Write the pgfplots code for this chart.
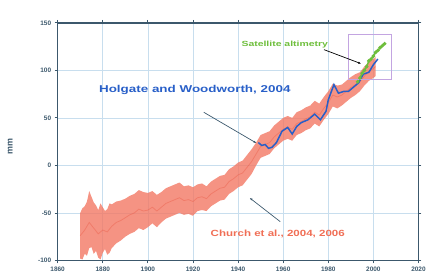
\documentclass[border=0pt]{standalone}
\usepackage{pgfplots}
\pgfplotsset{compat=1.18}
\usepackage{pgfplotstable}
\usetikzlibrary{arrows.meta}
\usepackage{fontspec}
\setmainfont{Liberation Sans}
\definecolor{frame}{RGB}{60,88,108}
\definecolor{gridc}{RGB}{200,222,238}
\definecolor{band}{RGB}{243,120,100}
\definecolor{redline}{RGB}{232,80,60}
\definecolor{blueline}{RGB}{40,95,200}
\definecolor{satgreen}{RGB}{110,190,60}
\definecolor{boxc}{RGB}{195,165,225}
\definecolor{churchc}{RGB}{240,110,85}

% Church et al. band: upper edge forward, lower edge backward
\pgfplotstableread{
year y
1870 -50
1871 -45
1872 -43
1873 -38
1874 -27
1875 -33
1876 -39
1877 -42
1878 -47
1879 -40
1880 -44
1881 -48
1882 -46
1883 -40
1884 -41
1886 -38
1888 -37
1890 -35
1892 -32
1894 -30
1896 -26
1898 -28
1900 -29
1902 -27
1904 -31
1906 -28
1908 -24
1910 -22
1912 -20
1914 -18
1916 -22
1918 -21
1920 -23
1922 -20
1924 -19
1926 -22
1928 -17
1930 -14
1932 -11
1934 -10
1936 -4
1938 -1
1940 3
1942 5
1944 11
1946 17
1948 24
1950 32
1952 34
1954 36
1956 42
1958 46
1960 50
1962 52
1964 50
1966 56
1968 58
1970 61
1972 63
1974 68
1976 65
1978 72
1980 78
1982 86
1984 84
1986 85
1988 89
1990 93
1992 96
1994 98
1996 104
1998 109
2000 112
2001 114
2001 94
2000 92
1998 89
1996 84
1994 78
1992 74
1990 71
1988 67
1986 63
1984 60
1982 62
1980 54
1978 48
1976 41
1974 44
1972 39
1970 37
1968 34
1966 32
1964 26
1962 28
1960 26
1958 22
1956 18
1954 12
1952 10
1950 8
1948 0
1946 -9
1944 -15
1942 -21
1940 -23
1938 -27
1936 -30
1934 -36
1932 -37
1930 -40
1928 -43
1926 -48
1924 -47
1922 -48
1920 -53
1918 -51
1916 -52
1914 -50
1912 -52
1910 -54
1908 -56
1906 -60
1904 -65
1902 -61
1900 -65
1898 -68
1896 -66
1894 -70
1892 -72
1890 -75
1888 -79
1886 -82
1884 -87
1883 -92
1882 -94
1881 -88
1880 -92
1879 -99
1878 -97
1877 -90
1876 -93
1875 -86
1874 -87
1873 -95
1872 -93
1871 -99
1870 -98
}\churchband

\pgfplotstableread{
year c
1870 -74
1872 -68
1874 -60
1876 -66
1878 -72
1880 -68
1882 -70
1884 -64
1886 -60
1888 -58
1890 -55
1892 -52
1894 -50
1896 -46
1898 -48
1900 -47
1902 -44
1904 -48
1906 -44
1908 -40
1910 -38
1912 -36
1914 -34
1916 -37
1918 -36
1920 -38
1922 -34
1924 -33
1926 -35
1928 -30
1930 -27
1932 -24
1934 -23
1936 -17
1938 -14
1940 -10
1942 -8
1944 -2
1946 4
1948 12
1950 20
1952 22
1954 24
1956 30
1958 34
1960 38
1962 40
1964 38
1966 44
1968 46
1970 49
1972 51
1974 56
1976 53
1978 60
1980 66
1982 74
1984 72
1986 74
1988 78
1990 82
1992 85
1994 88
1996 94
1998 99
2000 102
2001 104
}\church

\pgfplotstableread{
year y
1949 24
1950.5 21
1952 22
1953.5 18
1955 19
1957 24
1959.5 36
1962 40
1964 33
1966 41
1968 45
1971 48
1974 54
1976.5 48
1979 57
1980 69
1982.5 85
1984.5 76
1987 78
1989 78
1991 82
1993.5 87
1995.5 96
1998 98
2000 106
2002 112
}\holgate

\pgfplotstableread{
year y
1993 88
1994 92
1995 97
1996 100
1997 104
1998 110
1999 112
2000 115
2001 119
2002 121
2003 124
2004 126
2005 128
}\sat

\begin{document}
\begin{tikzpicture}
\begin{axis}[
  at={(0,0)}, anchor=south west,
  scale only axis, width=363pt, height=239pt,
  xmin=1860, xmax=2020, ymin=-100, ymax=150,
  xtick={1860,1880,...,2020}, ytick={-100,-50,...,150},
  grid=major, major grid style={gridc, line width=0.6pt},
  axis line style={frame, line width=1.6pt},
  tick style={frame, line width=0.8pt}, tick align=outside, major tick length=3pt,
  ticklabel style={font=\fontsize{6.5}{7.5}\selectfont\bfseries, text=frame},
  /pgf/number format/assume math mode=true,
  /pgf/number format/set thousands separator={},
  ylabel={mm}, ylabel style={font=\fontsize{9}{10}\selectfont\bfseries, text=frame, at={(axis description cs:-0.115,0.48)}},
]
\addplot[fill=band, fill opacity=0.8, draw=none] table[x=year, y=y]{\churchband} -- cycle;
\addplot[redline, line width=0.8pt, opacity=0.35] table[x=year, y=c]{\church};
\addplot[blueline, line width=1.5pt] table[x=year, y=y]{\holgate};
\addplot[satgreen, line width=1.5pt, mark=*, mark size=1pt, mark options={fill=orange, draw=satgreen}] table[x=year, y=y]{\sat};
\draw[boxc, line width=1pt] (axis cs:1989.1,90.4) rectangle (axis cs:2008.1,137.4);
\draw[frame, line width=0.7pt, -{Latex[length=3pt]}] (axis cs:1924.8,55.9) -- (axis cs:1948.2,23.4);
\draw[frame, line width=0.7pt, -{Latex[length=3pt]}] (axis cs:1958.7,-59.2) -- (axis cs:1945.1,-34.1);
\draw[black, line width=0.7pt, -{Latex[length=3pt]}] (axis cs:1978.1,121.8) -- (axis cs:1994.6,107);
\node[text=blueline, font=\fontsize{10}{11}\selectfont\bfseries] at (axis cs:1920.8,78.9) {\scalebox{1.35}[1]{Holgate and Woodworth, 2004}};
\node[text=satgreen, font=\fontsize{7.5}{8}\selectfont\bfseries] at (axis cs:1960.7,127) {\scalebox{1.4}[1]{Satellite altimetry}};
\node[text=churchc, font=\fontsize{9}{10}\selectfont\bfseries] at (axis cs:1957.6,-71.8) {\scalebox{1.29}[1]{Church et al., 2004, 2006}};
\end{axis}
\path (-58pt,-18pt) rectangle (371pt,262pt);
\end{tikzpicture}
\end{document}
